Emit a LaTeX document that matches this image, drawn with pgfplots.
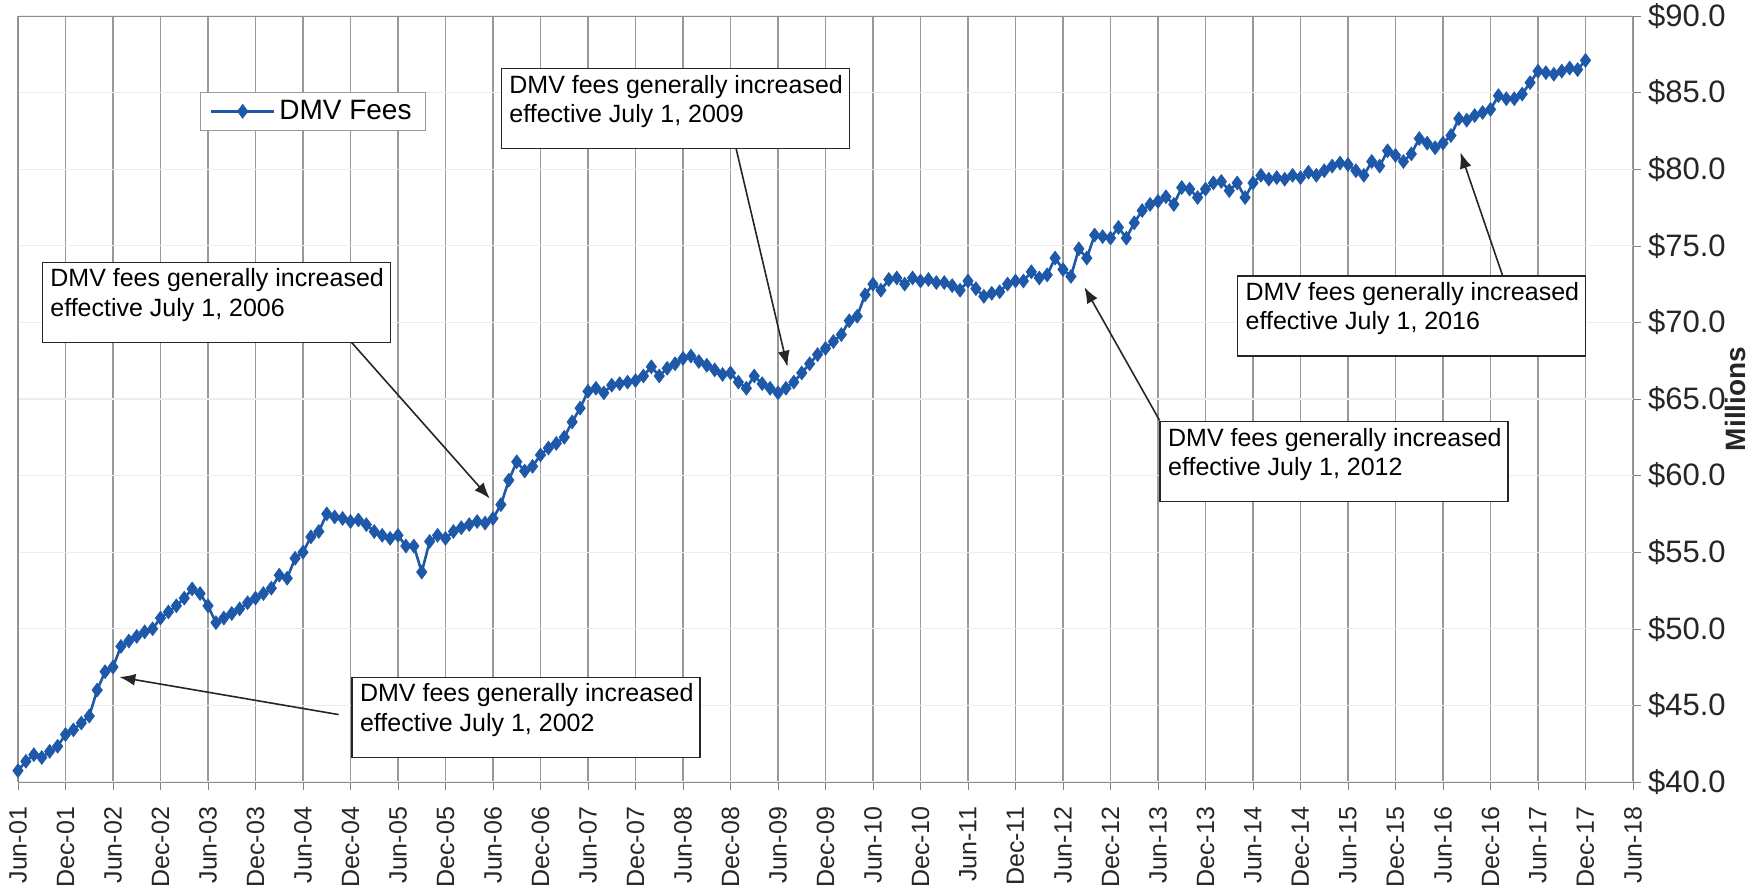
\documentclass[border=0pt]{standalone}
\usepackage{fontspec}
\setmainfont{Liberation Sans}
\usepackage{pgfplots}
\usepackage{pgfplotstable}
\pgfplotsset{compat=1.18}
\usetikzlibrary{calc,arrows.meta}

\definecolor{feeblue}{RGB}{30,88,168}

% monthly DMV fees, month 0 = Jun-01
\pgfplotstableread{
m v
0 40.74
1 41.35
2 41.78
3 41.60
4 42.00
5 42.33
6 43.10
7 43.40
8 43.85
9 44.30
10 46.00
11 47.20
12 47.50
13 48.85
14 49.20
15 49.50
16 49.80
17 50.00
18 50.70
19 51.10
20 51.50
21 52.00
22 52.60
23 52.30
24 51.50
25 50.40
26 50.70
27 51.00
28 51.30
29 51.70
30 52.00
31 52.30
32 52.65
33 53.50
34 53.30
35 54.60
36 55.00
37 56.00
38 56.35
39 57.50
40 57.30
41 57.20
42 57.00
43 57.10
44 56.80
45 56.35
46 56.10
47 55.90
48 56.10
49 55.40
50 55.40
51 53.70
52 55.70
53 56.10
54 55.90
55 56.35
56 56.60
57 56.80
58 57.00
59 56.90
60 57.20
61 58.10
62 59.70
63 60.90
64 60.30
65 60.60
66 61.35
67 61.80
68 62.10
69 62.50
70 63.50
71 64.40
72 65.50
73 65.70
74 65.40
75 65.90
76 66.00
77 66.10
78 66.20
79 66.50
80 67.10
81 66.50
82 67.00
83 67.30
84 67.65
85 67.80
86 67.45
87 67.20
88 66.90
89 66.60
90 66.70
91 66.10
92 65.70
93 66.50
94 66.00
95 65.70
96 65.40
97 65.70
98 66.10
99 66.70
100 67.30
101 67.90
102 68.30
103 68.75
104 69.20
105 70.10
106 70.40
107 71.80
108 72.50
109 72.10
110 72.80
111 72.90
112 72.50
113 72.90
114 72.70
115 72.80
116 72.60
117 72.60
118 72.40
119 72.10
120 72.70
121 72.20
122 71.70
123 71.90
124 72.00
125 72.50
126 72.70
127 72.70
128 73.30
129 72.90
130 73.10
131 74.20
132 73.45
133 73.00
134 74.80
135 74.20
136 75.70
137 75.60
138 75.50
139 76.20
140 75.50
141 76.50
142 77.30
143 77.70
144 77.90
145 78.20
146 77.70
147 78.80
148 78.70
149 78.15
150 78.70
151 79.10
152 79.20
153 78.60
154 79.10
155 78.15
156 79.10
157 79.60
158 79.35
159 79.45
160 79.35
161 79.60
162 79.45
163 79.80
164 79.60
165 79.90
166 80.20
167 80.40
168 80.30
169 79.90
170 79.60
171 80.50
172 80.20
173 81.20
174 80.90
175 80.50
176 81.00
177 82.00
178 81.70
179 81.40
180 81.70
181 82.20
182 83.30
183 83.20
184 83.50
185 83.70
186 83.90
187 84.80
188 84.60
189 84.60
190 84.90
191 85.65
192 86.40
193 86.30
194 86.20
195 86.40
196 86.60
197 86.50
198 87.10
}\feedata

\newcommand{\feebox}[1]{\parbox[c][40pt][t]{174pt}{\fontsize{12.5}{14.7}\selectfont
  \hspace*{4pt}\rule{0pt}{12.3pt}DMV fees generally increased\\
  \hspace*{4pt}effective July 1, #1}}

\begin{document}
\begin{tikzpicture}
\begin{axis}[
  scale only axis, width=807.5pt, height=383pt,
  xmin=0, xmax=204, ymin=40, ymax=90,
  clip=false,
  axis line style={black!45},
  xtick={0,6,...,204},
  xticklabels={Jun-01,Dec-01,Jun-02,Dec-02,Jun-03,Dec-03,Jun-04,Dec-04,Jun-05,Dec-05,Jun-06,Dec-06,Jun-07,Dec-07,Jun-08,Dec-08,Jun-09,Dec-09,Jun-10,Dec-10,Jun-11,Dec-11,Jun-12,Dec-12,Jun-13,Dec-13,Jun-14,Dec-14,Jun-15,Dec-15,Jun-16,Dec-16,Jun-17,Dec-17,Jun-18},
  xticklabel style={rotate=90, anchor=east, font=\fontsize{12.5}{14}\selectfont, text=black!85},
  xticklabel shift=5pt,
  ytick={40,45,...,90},
  yticklabel pos=right,
  ytick pos=right, xtick pos=bottom,
  tick align=outside, major tick length=4pt,
  tick style={black!50},
  yticklabel={\$\pgfmathprintnumber[fixed,fixed zerofill,precision=1,assume math mode=true]{\tick}},
  yticklabel style={font=\fontsize{15.5}{17}\selectfont, text=black!85},
  ylabel={Millions},
  ylabel style={font=\bfseries\fontsize{14}{16}\selectfont, text=black!85, yshift=7pt},
  xmajorgrids, ymajorgrids,
  x grid style={black!40, line width=0.6pt},
  y grid style={black!7, line width=0.6pt},
  legend style={at={(axis description cs:0.1125,0.901)}, anchor=north west,
    draw=black!40, font=\fontsize{14}{16}\selectfont, inner xsep=5pt, inner ysep=2pt},
  legend cell align=left,
  legend image code/.code={\draw[mark repeat=2, mark phase=2, #1]
    plot coordinates {(0cm,0cm) (0.55cm,0cm) (1.1cm,0cm)};},
]
\coordinate (bl) at (rel axis cs:0,0);
\coordinate (tr) at (rel axis cs:1,1);

\addplot[feeblue, line width=1.3pt, mark=diamond*, mark size=3.4pt,
  mark options={fill=feeblue, draw=feeblue, line width=0.4pt}]
  table[x=m, y=v] {\feedata};
\addlegendentry{DMV Fees}

\begin{scope}[black!85, line width=0.8pt, -{Latex[length=8pt,width=6pt]}]
  \draw (axis cs:40.5,44.4) -- (axis cs:12.8,46.85);
  \draw (axis cs:42,68.77) -- (axis cs:59.6,58.5);
  \draw (axis cs:90.7,81.36) -- (axis cs:97.2,67.1);
  \draw (axis cs:144.2,63.6) -- (axis cs:134.7,72.3);
  \draw (axis cs:187.5,73.09) -- (axis cs:182.2,81.1);
\end{scope}

\begin{scope}[every node/.style={draw=black!85, fill=white, line width=0.8pt,
    anchor=north west, inner sep=0pt}]
  \node at (axis cs:42.1,46.88) {\feebox{2002}};
  \node at (axis cs:2.98,73.97) {\feebox{2006}};
  \node at (axis cs:60.96,86.63) {\feebox{2009}};
  \node at (axis cs:144.17,63.57) {\feebox{2012}};
  \node at (axis cs:153.96,73.09) {\feebox{2016}};
\end{scope}
\end{axis}
\pgfresetboundingbox
\path ($(bl)+(-9pt,-53.5pt)$) rectangle ($(tr)+(63.5pt,8pt)$);
\end{tikzpicture}
\end{document}
